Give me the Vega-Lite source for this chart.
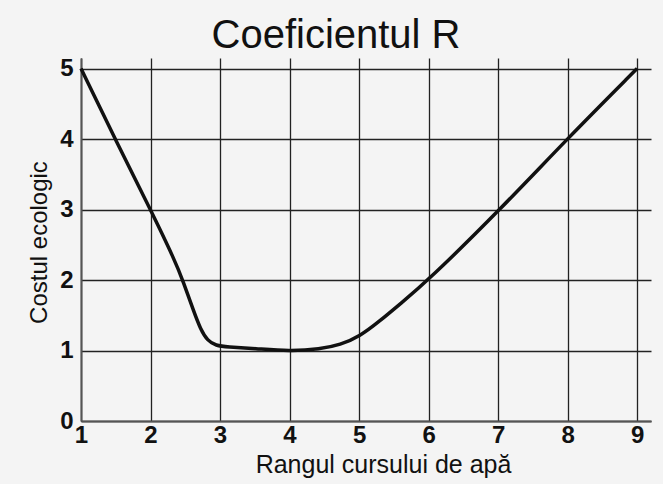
{
  "$schema": "https://vega.github.io/schema/vega-lite/v6.json",
  "width": 570,
  "height": 363,
  "autosize": "none",
  "padding": {"left": 81, "top": 58, "right": 12, "bottom": 63},
  "background": "#f4f4f4",
  "title": {
    "text": "Coeficientul R",
    "font": "Liberation Sans",
    "fontSize": 40,
    "fontWeight": "normal",
    "color": "#111",
    "anchor": "middle",
    "dx": -30,
    "offset": 1
  },
  "data": {
    "values": [
      {"x": 1.0, "y": 5.0},
      {"x": 1.49, "y": 4.0},
      {"x": 2.0, "y": 3.0},
      {"x": 2.35, "y": 2.28},
      {"x": 2.47, "y": 1.98},
      {"x": 2.62, "y": 1.56},
      {"x": 2.72, "y": 1.3},
      {"x": 2.82, "y": 1.14},
      {"x": 2.94, "y": 1.07},
      {"x": 3.1, "y": 1.05},
      {"x": 3.5, "y": 1.03},
      {"x": 4.0, "y": 0.99},
      {"x": 4.44, "y": 1.02},
      {"x": 4.73, "y": 1.08},
      {"x": 5.01, "y": 1.2},
      {"x": 5.3, "y": 1.42},
      {"x": 5.59, "y": 1.66},
      {"x": 6.0, "y": 2.0},
      {"x": 7.03, "y": 3.0},
      {"x": 8.01, "y": 4.02},
      {"x": 9.0, "y": 5.0}
    ]
  },
  "mark": {"type": "line", "color": "#111", "strokeWidth": 3.5, "interpolate": "basis"},
  "encoding": {
    "x": {
      "field": "x",
      "type": "quantitative",
      "scale": {"domain": [1, 9.2], "nice": false, "zero": false},
      "axis": {
        "title": "Rangul cursului de apă",
        "values": [1, 2, 3, 4, 5, 6, 7, 8, 9],
        "grid": true,
        "gridColor": "#222",
        "gridWidth": 1.3,
        "gridOpacity": 1,
        "ticks": false,
        "domainColor": "#555",
        "domainWidth": 2,
        "labelFont": "Liberation Sans",
        "labelFontSize": 24,
        "labelFontWeight": "bold",
        "labelColor": "#111",
        "labelPadding": 2,
        "labelFlush": false,
        "titleFont": "Liberation Sans",
        "titleFontSize": 25,
        "titleFontWeight": "normal",
        "titleColor": "#111",
        "titleX": 302,
        "titleY": 51,
        "titleBaseline": "alphabetic"
      }
    },
    "y": {
      "field": "y",
      "type": "quantitative",
      "scale": {"domain": [0, 5.15], "nice": false},
      "axis": {
        "title": "Costul ecologic",
        "values": [0, 1, 2, 3, 4, 5],
        "grid": true,
        "gridColor": "#222",
        "gridWidth": 1.3,
        "gridOpacity": 1,
        "ticks": false,
        "domainColor": "#555",
        "domainWidth": 2,
        "labelFont": "Liberation Sans",
        "labelFontSize": 24,
        "labelFontWeight": "bold",
        "labelColor": "#111",
        "labelPadding": 8,
        "labelFlush": false,
        "titleFont": "Liberation Sans",
        "titleFontSize": 24,
        "titleFontWeight": "normal",
        "titleColor": "#111",
        "titleX": -35,
        "titleY": 184,
        "titleAngle": -90,
        "titleAlign": "center",
        "titleBaseline": "alphabetic"
      }
    }
  },
  "config": {"view": {"stroke": null}}
}
